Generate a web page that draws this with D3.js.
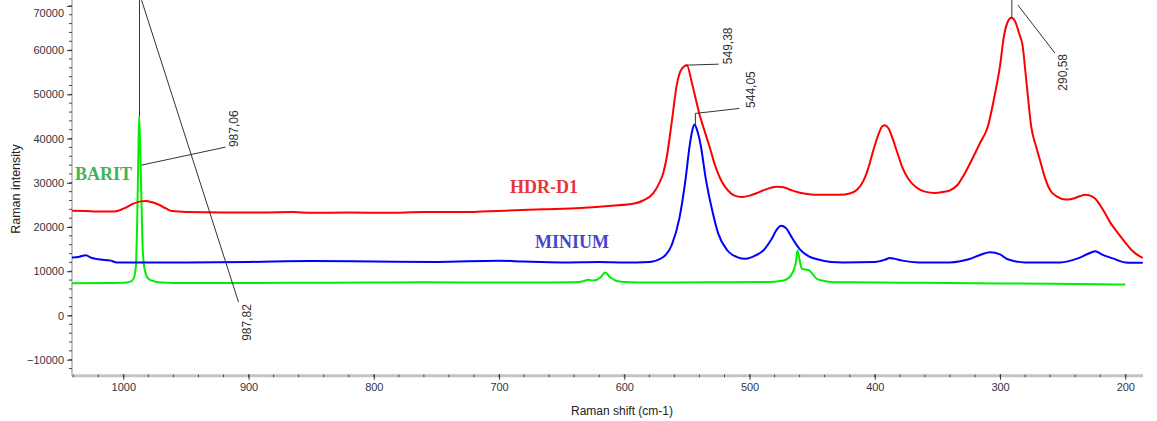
<!DOCTYPE html>
<html>
<head>
<meta charset="utf-8">
<script src="https://cdn.jsdelivr.net/npm/d3@7"></script>
<style>
  html, body { margin: 0; padding: 0; background: #fff; }
  svg { display: block; }
</style>
</head>
<body>
<svg id="chart" width="1157" height="421"></svg>
<script>
// ---------- DATA ----------
const seriesNames = ["HDR-D1", "MINIUM", "BARIT"];

const hdrShift = [1041,1030,1020,1010,1004,998,992,986,982,977,972,966,961,950,920,890,864,850,820,790,760,730,714,695,665,635,610,592,585,577,572,569,566,562,558,554,550,546,543,540,536,532,527,522,517,512,506,500,494,488,483,478,473,468,462,455,448,440,428,420,414,409,405,401,397,394,392,389,386,382,378,373,367,360,352,346,340,334,329,322,316,310,304,300,297,294,291,288,285,282,279,275,271,268,264,260,254,248,242,236,232,228,224,218,212,206,200,194,188,186];
const hdrIntensity = [23700,23600,23500,23500,23700,24400,25300,25800,25900,25600,25100,24200,23600,23400,23300,23300,23400,23200,23300,23200,23400,23400,23500,23700,24000,24300,24800,25300,26000,27600,30000,32100,36000,44000,52300,55800,56600,52500,49000,45500,41800,38200,33500,30200,28200,27100,26800,27100,27700,28400,28900,29100,29000,28500,27900,27500,27300,27300,27300,27600,28500,30500,33500,37500,41000,42800,43000,42300,40200,36800,33500,30800,29000,28000,27700,27900,28300,29500,31700,35500,39000,42500,50200,56500,63000,66300,67300,66500,64000,61000,53000,42500,38000,35000,31000,28300,26800,26200,26400,27000,27300,27100,26400,24000,21000,18700,16500,14500,13300,13000];

const miniumShift = [1041,1035,1030,1025,1020,1010,1005,950,900,850,800,750,700,680,650,620,600,590,580,570,562,556,551,548,546,544,542,539,535,530,525,518,510,503,495,489,483,478,475,471,466,460,453,446,435,425,400,392,388,384,378,365,340,325,315,308,300,294,280,252,238,230,224,218,210,200,186];
const miniumIntensity = [13100,13300,13600,13000,12700,12400,12000,12000,12100,12300,12200,12100,12400,12200,12000,12100,12000,12000,12100,13000,16000,22000,31000,38000,41500,43200,42000,38500,31000,24000,18500,14800,13200,12800,13600,14700,17000,19500,20300,19800,17500,15000,13400,12700,12100,12000,12100,12600,13000,12800,12400,12000,12000,12700,13800,14300,13800,12700,12000,12000,12900,13900,14500,13700,12900,12000,11900];

const baritShift = [1041,1010,1000,995,992,990,989,988,987.4,986.5,985.5,984.5,983,980,975,970,960,900,850,800,760,700,660,640,632,629,625,619,615.4,611,606,595,560,520,490,478,473,469,466,463,461.8,460,458.3,456,453,450,446.4,442,438.4,428,420,380,340,300,260,220,200];
const baritIntensity = [7300,7350,7400,7600,8200,11000,20000,36000,45000,38000,26000,15000,10500,8300,7700,7450,7350,7350,7400,7450,7500,7450,7450,7500,7800,8100,7900,8600,9700,8600,7800,7500,7450,7500,7550,7700,7900,8400,9500,12000,14700,12500,10600,10400,10300,9500,8300,7900,7700,7500,7500,7400,7350,7250,7200,7050,7000];

const xTickValues = [1000,900,800,700,600,500,400,300,200];
const yTickValues = [-10000,0,10000,20000,30000,40000,50000,60000,70000];

const peakLabels = ["987,06","987,82","549,38","544,05","290,58"];
const peakShifts = [987.06,987.82,549.38,544.05,290.58];
const peakHeights = [34000,71300,56600,43200,67300];

// ---------- LAYOUT ----------
const svg = d3.select("#chart");
const W = 1157, H = 421;
const plotLeft = 72, plotRight = 1143, plotTop = 0, plotBottom = 375.7;

const x = d3.scaleLinear().domain([1040, 200]).range([73.2, 1125.3]);
const y = d3.scaleLinear().domain([-10000, 70000]).range([359.7, 5.9]);

const colors = { "HDR-D1": "#ff0000", "MINIUM": "#0000ff", "BARIT": "#00ee00" };
const labelColors = { "HDR-D1": "#e8343a", "MINIUM": "#4646cc", "BARIT": "#3cb45a" };

svg.append("rect").attr("width", W).attr("height", H).attr("fill", "#fff");

svg.append("defs").append("clipPath").attr("id", "clip")
  .append("rect").attr("x", plotLeft).attr("y", plotTop)
  .attr("width", plotRight - plotLeft).attr("height", plotBottom - plotTop);

const font = "'Liberation Sans', Arial, sans-serif";

// ---------- AXES ----------
svg.append("line").attr("x1", plotLeft).attr("x2", plotLeft)
  .attr("y1", 0).attr("y2", plotBottom)
  .attr("stroke", "#c4c4c4").attr("stroke-width", 2);

const yMinor = d3.range(-12000, 71000, 2000);
svg.append("g").selectAll("line").data(yMinor).join("line")
  .attr("x1", plotLeft - 3).attr("x2", plotLeft)
  .attr("y1", d => y(d)).attr("y2", d => y(d))
  .attr("stroke", "#444").attr("stroke-width", 1);

const yAxis = d3.axisLeft(y).tickValues(yTickValues).tickSize(5).tickFormat(d3.format("d"));
const gy = svg.append("g").attr("transform", `translate(${plotLeft},0)`).call(yAxis);
gy.select(".domain").remove();
gy.selectAll(".tick line").attr("stroke", "#333");
gy.selectAll(".tick text").attr("fill", "#333344").attr("font-size", 11)
  .attr("font-family", font).attr("x", -8);
gy.selectAll(".tick").filter(d => d === 70000).select("text").attr("dy", "0.95em");

svg.append("line").attr("x1", plotLeft).attr("x2", plotRight)
  .attr("y1", plotBottom).attr("y2", plotBottom)
  .attr("stroke", "#c4c4c4").attr("stroke-width", 3);

const xMinor = d3.range(1040, 199, -20);
svg.append("g").selectAll("line").data(xMinor).join("line")
  .attr("x1", d => x(d)).attr("x2", d => x(d))
  .attr("y1", plotBottom - 1).attr("y2", plotBottom + 1.5)
  .attr("stroke", "#444").attr("stroke-width", 1);

const xAxis = d3.axisBottom(x).tickValues(xTickValues).tickSize(4).tickFormat(d3.format("d"));
const gx = svg.append("g").attr("transform", `translate(0,${plotBottom - 1.5})`).call(xAxis);
gx.select(".domain").remove();
gx.selectAll(".tick line").attr("stroke", "#333").attr("y2", 5.5);
gx.selectAll(".tick text").attr("fill", "#333344").attr("font-size", 11)
  .attr("font-family", font).attr("y", 9);

svg.append("text").attr("x", 622).attr("y", 415)
  .attr("text-anchor", "middle").attr("font-size", 12).attr("font-family", font)
  .attr("fill", "#222").text("Raman shift (cm-1)");
svg.append("text").attr("transform", "translate(20,189) rotate(-90)")
  .attr("text-anchor", "middle").attr("font-size", 12.5).attr("font-family", font)
  .attr("fill", "#222").text("Raman intensity");

// ---------- SERIES ----------
const line = d3.line().x(d => x(d[0])).y(d => y(d[1])).curve(d3.curveMonotoneX);
const seriesData = {
  "HDR-D1": d3.zip(hdrShift, hdrIntensity),
  "MINIUM": d3.zip(miniumShift, miniumIntensity),
  "BARIT": d3.zip(baritShift, baritIntensity)
};
const plot = svg.append("g").attr("clip-path", "url(#clip)");
["BARIT", "MINIUM", "HDR-D1"].forEach(name => {
  plot.append("path").datum(seriesData[name])
    .attr("fill", "none").attr("stroke", colors[name])
    .attr("stroke-width", 2).attr("stroke-linejoin", "round")
    .attr("d", line);
});

// ---------- ANNOTATIONS ----------
const ann = svg.append("g").attr("clip-path", "url(#clip)");
const annText = svg.append("g");
const annStroke = "#333";
function seg(x1, y1, x2, y2) {
  ann.append("line").attr("x1", x1).attr("y1", y1).attr("x2", x2).attr("y2", y2)
    .attr("stroke", annStroke).attr("stroke-width", 1);
}
function rotLabel(cx, cy, txt, anchor) {
  annText.append("text").attr("transform", `translate(${cx},${cy}) rotate(-90)`)
    .attr("text-anchor", anchor).attr("dy", "0.35em")
    .attr("font-size", 12).attr("font-family", font).attr("fill", "#333")
    .text(txt);
}
{
  const px = x(peakShifts[0]);
  seg(px, 0, px, y(45000));
  seg(px + 2, y(peakHeights[0]), px + 86, y(peakHeights[0]) - 18);
  rotLabel(px + 94, y(peakHeights[0]) - 18, peakLabels[0], "start");
}
{
  const px = x(peakShifts[1]);
  seg(px + 3, y(peakHeights[1]), px + 100, y(peakHeights[1]) + 302);
  rotLabel(px + 108, y(peakHeights[1]) + 304, peakLabels[1], "end");
}
{
  const px = x(peakShifts[2]) - 2, py = y(peakHeights[2]);
  seg(px, py, px + 33, py - 1);
  rotLabel(px + 42, py - 1, peakLabels[2], "start");
}
{
  const px = x(peakShifts[3]) + 1, py = y(peakHeights[3]);
  seg(px, py, px, py - 11);
  seg(px, py - 11, px + 44, py - 16);
  rotLabel(px + 55, py - 16.5, peakLabels[3], "start");
}
{
  const px = x(peakShifts[4]), py = y(peakHeights[4]);
  seg(px, py, px, 0);
  seg(px + 6, 5, px + 43, 53);
  rotLabel(px + 51, 54, peakLabels[4], "end");
}

// ---------- SERIES LABELS ----------
const serif = "'Liberation Serif', 'Times New Roman', serif";
[["BARIT", 75, 180], ["HDR-D1", 510, 193], ["MINIUM", 535, 248]].forEach(([n, lx, ly]) => {
  svg.append("text").attr("x", lx).attr("y", ly)
    .attr("font-family", serif).attr("font-weight", "bold").attr("font-size", 18)
    .attr("fill", labelColors[n]).text(n);
});
</script>
</body>
</html>
